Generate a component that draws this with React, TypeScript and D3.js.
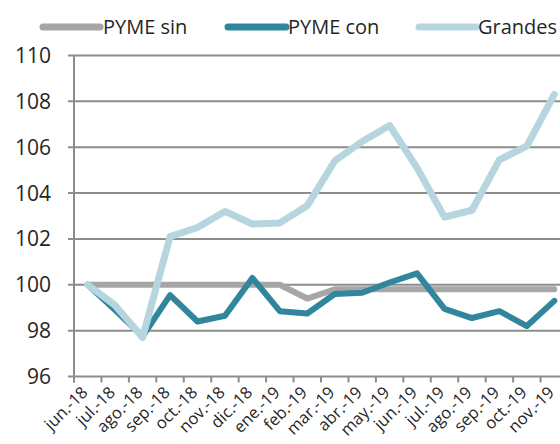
import React from "react";
import * as d3 from "d3";

const months = [
  "jun.-18", "jul.-18", "ago.-18", "sep.-18", "oct.-18", "nov.-18",
  "dic.-18", "ene.-19", "feb.-19", "mar.-19", "abr.-19", "may.-19",
  "jun.-19", "jul.-19", "ago.-19", "sep.-19", "oct.-19", "nov.-19",
];

const pymeSin = [
  100, 100, 100, 100, 100, 100, 100, 100, 99.4, 99.8, 99.8, 99.8, 99.8,
  99.8, 99.8, 99.8, 99.8, 99.8,
];
const pymeCon = [
  100, 98.9, 97.75, 99.55, 98.4, 98.65, 100.3, 98.85, 98.75, 99.6, 99.65,
  100.1, 100.5, 98.95, 98.55, 98.85, 98.2, 99.3,
];
const grandes = [
  100, 99.1, 97.7, 102.1, 102.5, 103.2, 102.65, 102.7, 103.45, 105.4, 106.25,
  106.95, 105.1, 102.95, 103.25, 105.45, 106.05, 108.3,
];

const yTicks = [96, 98, 100, 102, 104, 106, 108, 110];

const series = [
  { name: "PYME sin", values: pymeSin, color: "#a6a6a6", width: 6 },
  { name: "PYME con", values: pymeCon, color: "#31859c", width: 6 },
  { name: "Grandes", values: grandes, color: "#b7d5df", width: 7 },
];

const W = 560;
const H = 444;
const font = "'Open Sans', sans-serif";

export default function App() {
  const x = d3.scaleBand<string>().domain(months).range([74, 568]).padding(0);
  const y = d3.scaleLinear().domain([96, 110]).range([376.5, 55.5]);
  const cx = (m: string) => (x(m) ?? 0) + x.bandwidth() / 2;

  const line = (vals: number[]) =>
    d3
      .line<number>()
      .x((_, i) => cx(months[i]))
      .y((d) => y(d))(vals) ?? "";

  // legend placement: sample line start, text start
  const legendPos = [
    { x1: 43, x2: 100, tx: 103 },
    { x1: 228, x2: 286, tx: 288 },
    { x1: 419, x2: 476, tx: 478 },
  ];

  const bounds = [...months.map((m) => x(m) ?? 0), x.range()[1]];

  return (
    <svg
      width={W}
      height={H}
      style={{ position: "absolute", left: 0, top: 0, background: "#fff" }}
    >
      {/* gridlines */}
      {yTicks.map((t) => (
        <line
          key={t}
          x1={68}
          x2={W}
          y1={y(t)}
          y2={y(t)}
          stroke="#8c8c8c"
          strokeWidth={2}
        />
      ))}
      {/* y axis */}
      <line x1={74} x2={74} y1={y(110)} y2={y(96) + 6} stroke="#8c8c8c" strokeWidth={2} />
      {/* x ticks */}
      {bounds.map((b, i) => (
        <line key={i} x1={b} x2={b} y1={y(96)} y2={y(96) + 6} stroke="#8c8c8c" strokeWidth={2} />
      ))}
      {/* y labels */}
      {yTicks.map((t) => (
        <text
          key={t}
          x={51}
          y={y(t)}
          dy="0.36em"
          textAnchor="end"
          fontFamily={font}
          fontSize={21}
          fill="#262626"
        >
          {t}
        </text>
      ))}
      {/* x labels */}
      {months.map((m) => (
        <text
          key={m}
          transform={`translate(${cx(m) + 1},${y(96) + 17}) rotate(-45)`}
          textAnchor="end"
          fontFamily={font}
          fontSize={16.5}
          fill="#262626"
        >
          {m}
        </text>
      ))}
      {/* series */}
      {series.map((s) => (
        <path
          key={s.name}
          d={line(s.values)}
          fill="none"
          stroke={s.color}
          strokeWidth={s.width}
          strokeLinejoin="round"
          strokeLinecap="round"
        />
      ))}
      {/* legend */}
      {series.map((s, i) => (
        <g key={s.name}>
          <line
            x1={legendPos[i].x1}
            x2={legendPos[i].x2}
            y1={27}
            y2={27}
            stroke={s.color}
            strokeWidth={7}
            strokeLinecap="round"
          />
          <text
            x={legendPos[i].tx}
            y={27}
            dy="0.36em"
            fontFamily={font}
            fontSize={20}
            fill="#262626"
          >
            {s.name}
          </text>
        </g>
      ))}
    </svg>
  );
}
